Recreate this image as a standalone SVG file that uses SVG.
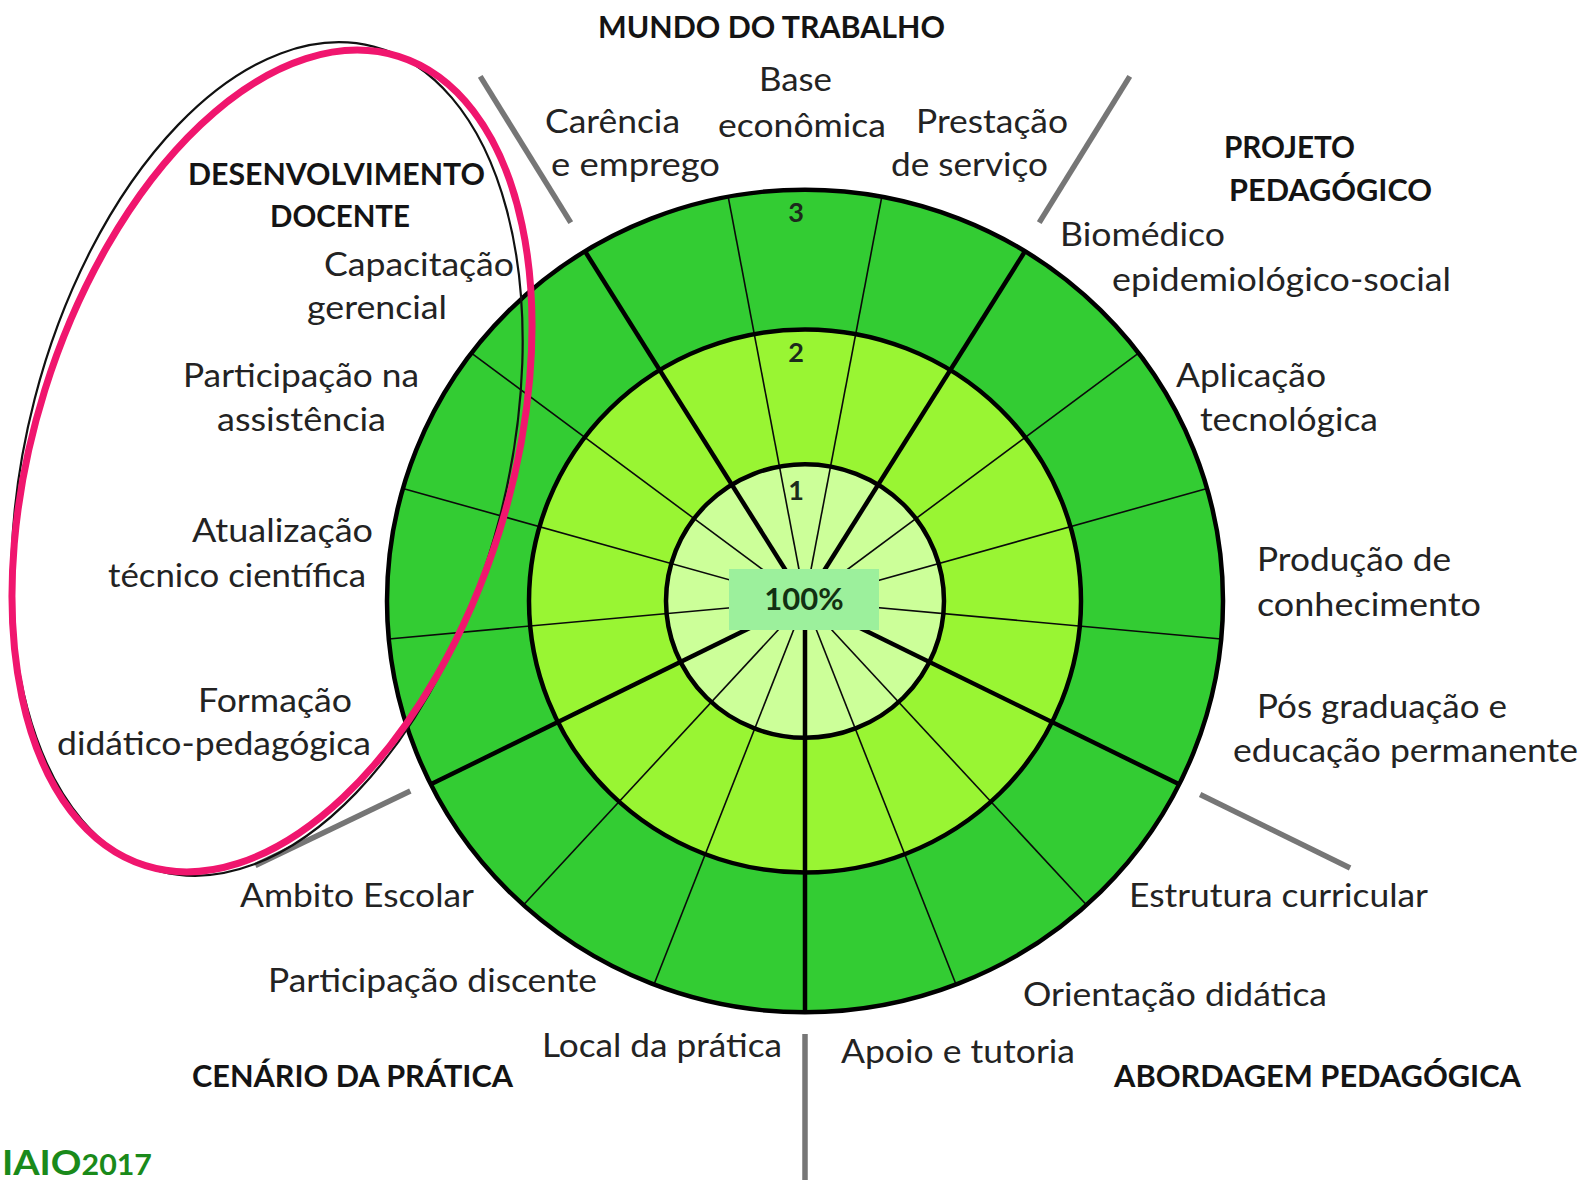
<svg xmlns="http://www.w3.org/2000/svg" width="1583" height="1180" viewBox="0 0 1583 1180">
<style>
.t{font-family:Lato,"Liberation Sans",sans-serif;font-size:33px;fill:#232323}
.h{font-family:Lato,"Liberation Sans",sans-serif;font-size:30px;font-weight:bold;fill:#141414}
.n{font-family:Lato,"Liberation Sans",sans-serif;font-size:27px;font-weight:bold;fill:#1c2a1c;text-anchor:middle}
.ring{stroke:#000;stroke-width:4.5}
.thin{stroke:#0a0a0a;stroke-width:1.6}
.thick{stroke:#000;stroke-width:4.5}
.sep{stroke:#767676;stroke-width:5.5}
</style>
<rect width="1583" height="1180" fill="#fff"/>

<g id="wheel">
<g transform="translate(805,601) scale(1,0.984)">
<circle cx="0" cy="0" r="418" fill="#33cc33"/>
<circle cx="0" cy="0" r="276" fill="#99f533"/>
<circle cx="0" cy="0" r="139" fill="#ccff99"/>
<line class="thick" x1="0" y1="0" x2="0" y2="-418" transform="rotate(-31.76)"/>
<line class="thin" x1="0" y1="0" x2="0" y2="-418" transform="rotate(-10.59)"/>
<line class="thin" x1="0" y1="0" x2="0" y2="-418" transform="rotate(10.59)"/>
<line class="thick" x1="0" y1="0" x2="0" y2="-418" transform="rotate(31.76)"/>
<line class="thin" x1="0" y1="0" x2="0" y2="-418" transform="rotate(52.94)"/>
<line class="thin" x1="0" y1="0" x2="0" y2="-418" transform="rotate(74.12)"/>
<line class="thin" x1="0" y1="0" x2="0" y2="-418" transform="rotate(95.29)"/>
<line class="thick" x1="0" y1="0" x2="0" y2="-418" transform="rotate(116.47)"/>
<line class="thin" x1="0" y1="0" x2="0" y2="-418" transform="rotate(137.65)"/>
<line class="thin" x1="0" y1="0" x2="0" y2="-418" transform="rotate(158.82)"/>
<line class="thick" x1="0" y1="0" x2="0" y2="-418" transform="rotate(180)"/>
<line class="thin" x1="0" y1="0" x2="0" y2="-418" transform="rotate(201.18)"/>
<line class="thin" x1="0" y1="0" x2="0" y2="-418" transform="rotate(222.35)"/>
<line class="thick" x1="0" y1="0" x2="0" y2="-418" transform="rotate(243.53)"/>
<line class="thin" x1="0" y1="0" x2="0" y2="-418" transform="rotate(264.71)"/>
<line class="thin" x1="0" y1="0" x2="0" y2="-418" transform="rotate(285.88)"/>
<line class="thin" x1="0" y1="0" x2="0" y2="-418" transform="rotate(307.06)"/>
<circle cx="0" cy="0" r="418" fill="none" class="ring"/>
<circle cx="0" cy="0" r="276" fill="none" class="ring"/>
<circle cx="0" cy="0" r="139" fill="none" class="ring"/>
</g>
<text class="n" x="796" y="222">3</text>
<text class="n" x="796" y="362">2</text>
<text class="n" x="796" y="500">1</text>
</g>

<g id="center">
<rect x="729" y="569" width="150" height="61" fill="#9cf09c"/>
<text x="804" y="610" text-anchor="middle" font-family="Lato,'Liberation Sans',sans-serif" font-size="31" font-weight="bold" fill="#123012">100%</text>
</g>

<g id="connectors">
<g transform="translate(805,601)">
<line class="sep" x1="0" y1="-445" x2="0" y2="-617" transform="rotate(-31.76)"/>
<line class="sep" x1="0" y1="-445" x2="0" y2="-617" transform="rotate(31.76)"/>
<line class="sep" x1="0" y1="-440" x2="0" y2="-607" transform="rotate(116.1)"/>
<line class="sep" x1="0" y1="-433" x2="0" y2="-590" transform="rotate(180)"/>
<line class="sep" x1="0" y1="-438" x2="0" y2="-610" transform="rotate(244.3)"/>
</g>
</g>

<g id="highlight">
<ellipse cx="267" cy="459" rx="240" ry="426" transform="rotate(14.5 267 459)" fill="none" stroke="#111" stroke-width="2.2"/>
<ellipse cx="272" cy="461" rx="238" ry="424" transform="rotate(17.35 272 461)" fill="none" stroke="#f0166e" stroke-width="7"/>
</g>

<g id="mundo">
<text class="h" x="598" y="38" textLength="347" lengthAdjust="spacingAndGlyphs">MUNDO DO TRABALHO</text>
<text class="t" x="545" y="133" textLength="135" lengthAdjust="spacingAndGlyphs">Carência</text>
<text class="t" x="551" y="176" textLength="169" lengthAdjust="spacingAndGlyphs">e emprego</text>
<text class="t" x="759" y="91" textLength="73" lengthAdjust="spacingAndGlyphs">Base</text>
<text class="t" x="718" y="137" textLength="168" lengthAdjust="spacingAndGlyphs">econômica</text>
<text class="t" x="916" y="133" textLength="152" lengthAdjust="spacingAndGlyphs">Prestação</text>
<text class="t" x="891" y="176" textLength="157" lengthAdjust="spacingAndGlyphs">de serviço</text>
</g>

<g id="projeto">
<text class="h" x="1224" y="158" textLength="131" lengthAdjust="spacingAndGlyphs">PROJETO</text>
<text class="h" x="1229" y="201" textLength="203" lengthAdjust="spacingAndGlyphs">PEDAGÓGICO</text>
<text class="t" x="1060" y="246" textLength="165" lengthAdjust="spacingAndGlyphs">Biomédico</text>
<text class="t" x="1112" y="291" textLength="339" lengthAdjust="spacingAndGlyphs">epidemiológico-social</text>
<text class="t" x="1176" y="387" textLength="150" lengthAdjust="spacingAndGlyphs">Aplicação</text>
<text class="t" x="1200" y="431" textLength="178" lengthAdjust="spacingAndGlyphs">tecnológica</text>
<text class="t" x="1257" y="571" textLength="194" lengthAdjust="spacingAndGlyphs">Produção de</text>
<text class="t" x="1257" y="616" textLength="224" lengthAdjust="spacingAndGlyphs">conhecimento</text>
<text class="t" x="1257" y="718" textLength="250" lengthAdjust="spacingAndGlyphs">Pós graduação e</text>
<text class="t" x="1233" y="762" textLength="345" lengthAdjust="spacingAndGlyphs">educação permanente</text>
</g>

<g id="abordagem">
<text class="t" x="1129" y="907" textLength="299" lengthAdjust="spacingAndGlyphs">Estrutura curricular</text>
<text class="t" x="1023" y="1006" textLength="304" lengthAdjust="spacingAndGlyphs">Orientação didática</text>
<text class="t" x="841" y="1063" textLength="234" lengthAdjust="spacingAndGlyphs">Apoio e tutoria</text>
<text class="h" x="1114" y="1087" textLength="407" lengthAdjust="spacingAndGlyphs">ABORDAGEM PEDAGÓGICA</text>
</g>

<g id="cenario">
<text class="t" x="542" y="1057" textLength="240" lengthAdjust="spacingAndGlyphs">Local da prática</text>
<text class="h" x="192" y="1087" textLength="321" lengthAdjust="spacingAndGlyphs">CENÁRIO DA PRÁTICA</text>
<text class="t" x="268" y="992" textLength="329" lengthAdjust="spacingAndGlyphs">Participação discente</text>
<text class="t" x="240" y="907" textLength="234" lengthAdjust="spacingAndGlyphs">Ambito Escolar</text>
</g>

<g id="desenvolvimento">
<text class="h" x="188" y="185" textLength="297" lengthAdjust="spacingAndGlyphs">DESENVOLVIMENTO</text>
<text class="h" x="270" y="227" textLength="140" lengthAdjust="spacingAndGlyphs">DOCENTE</text>
<text class="t" x="324" y="276" textLength="190" lengthAdjust="spacingAndGlyphs">Capacitação</text>
<text class="t" x="307" y="319" textLength="140" lengthAdjust="spacingAndGlyphs">gerencial</text>
<text class="t" x="183" y="387" textLength="236" lengthAdjust="spacingAndGlyphs">Participação na</text>
<text class="t" x="217" y="431" textLength="169" lengthAdjust="spacingAndGlyphs">assistência</text>
<text class="t" x="192" y="542" textLength="181" lengthAdjust="spacingAndGlyphs">Atualização</text>
<text class="t" x="108" y="587" textLength="258" lengthAdjust="spacingAndGlyphs">técnico científica</text>
<text class="t" x="198" y="712" textLength="154" lengthAdjust="spacingAndGlyphs">Formação</text>
<text class="t" x="57" y="755" textLength="314" lengthAdjust="spacingAndGlyphs">didático-pedagógica</text>
</g>

<g id="footer">
<text x="2" y="1175" font-family="Lato,'Liberation Sans',sans-serif" font-size="35" font-weight="bold" fill="#1a8a1a" textLength="150" lengthAdjust="spacingAndGlyphs">IAIO<tspan font-size="28">2017</tspan></text>
</g>
</svg>
